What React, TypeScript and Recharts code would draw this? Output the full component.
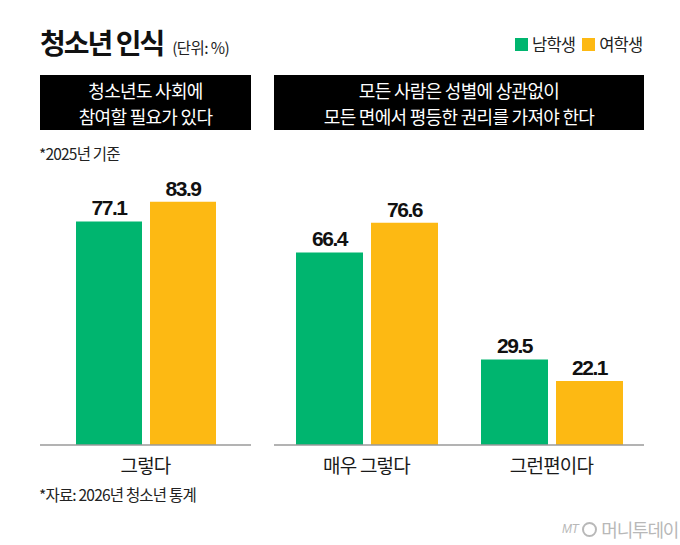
import React from "react";
import { BarChart, Bar, XAxis, YAxis, LabelList } from "recharts";

const seriesNames = ["남학생", "여학생"];
const seriesColors = ["#00b56f", "#fdb913"];

const leftCategories = ["그렇다"];
const leftMale = [77.1];
const leftFemale = [83.9];

const rightCategories = ["매우 그렇다", "그런편이다"];
const rightMale = [66.4, 29.5];
const rightFemale = [76.6, 22.1];

const leftData = leftCategories.map((name, i) => ({ name, male: leftMale[i], female: leftFemale[i] }));
const rightData = rightCategories.map((name, i) => ({ name, male: rightMale[i], female: rightFemale[i] }));

const KR = "'Noto Sans CJK KR', 'Noto Sans', sans-serif";
const NUM = "'Liberation Sans Narrow', 'Liberation Sans', Arial, sans-serif";

const headerStyle: React.CSSProperties = {
  position: "absolute",
  top: 75,
  height: 55,
  background: "#000",
  color: "#fff",
  fontFamily: KR,
  fontSize: 18,
  letterSpacing: -0.7,
  display: "flex",
  flexDirection: "column",
  justifyContent: "center",
  alignItems: "center",
  textAlign: "center",
};

const lineStyle: React.CSSProperties = { height: 26, lineHeight: "26px" };

const labelStyle = { fontSize: 21, fontWeight: 700, fill: "#111", fontFamily: NUM, letterSpacing: -1.5 };

function Panel({ data, width, left, barSize }: { data: any[]; width: number; left: number; barSize: number }) {
  return (
    <div style={{ position: "absolute", left, top: 155 }}>
      <BarChart width={width} height={335} data={data} margin={{ top: 0, right: 0, left: 0, bottom: 0 }} barGap={8} barSize={barSize}>
        <YAxis hide domain={[0, 100]} />
        <XAxis
          dataKey="name"
          axisLine={{ stroke: "#9a9a9a", strokeWidth: 1.5 }}
          tickLine={false}
          height={45}
          tickMargin={9}
          tick={{ fontSize: 19, fill: "#1a1a1a", fontFamily: KR, letterSpacing: -0.8 }}
        />
        <Bar dataKey="male" fill={seriesColors[0]} isAnimationActive={false}>
          <LabelList dataKey="male" position="top" offset={6} style={labelStyle} />
        </Bar>
        <Bar dataKey="female" fill={seriesColors[1]} isAnimationActive={false}>
          <LabelList dataKey="female" position="top" offset={6} style={labelStyle} />
        </Bar>
      </BarChart>
    </div>
  );
}

export default function App() {
  return (
    <div style={{ position: "absolute", left: 0, top: 0, width: 680, height: 545, background: "#fff", overflow: "hidden" }}>
      <div style={{ position: "absolute", left: 40, top: 22, fontFamily: KR, fontSize: 28, fontWeight: 700, letterSpacing: -2, color: "#111" }}>
        청소년 인식
        <span style={{ fontSize: 15.5, fontWeight: 400, letterSpacing: -0.6, marginLeft: 9, color: "#222" }}>(단위: %)</span>
      </div>

      <div style={{ position: "absolute", left: 515, top: 32, display: "flex", alignItems: "center", fontFamily: KR, fontSize: 16.5, letterSpacing: -0.8, color: "#222" }}>
        {seriesNames.map((n, i) => (
          <span key={n} style={{ display: "flex", alignItems: "center", marginRight: i === 0 ? 7 : 0 }}>
            <span style={{ display: "inline-block", width: 13, height: 13, background: seriesColors[i], marginRight: 4 }} />
            {n}
          </span>
        ))}
      </div>

      <div style={{ ...headerStyle, left: 40, width: 211 }}>
        <div style={lineStyle}>청소년도 사회에</div>
        <div style={lineStyle}>참여할 필요가 있다</div>
      </div>
      <div style={{ ...headerStyle, left: 274, width: 370 }}>
        <div style={lineStyle}>모든 사람은 성별에 상관없이</div>
        <div style={lineStyle}>모든 면에서 평등한 권리를 가져야 한다</div>
      </div>

      <div style={{ position: "absolute", left: 39, top: 142, fontFamily: KR, fontSize: 15.5, letterSpacing: -0.8, color: "#222" }}>
        *2025년 기준
      </div>

      <Panel data={leftData} width={211} left={40} barSize={66} />
      <Panel data={rightData} width={370} left={274} barSize={67} />

      <div style={{ position: "absolute", left: 39, top: 483, fontFamily: KR, fontSize: 15.5, letterSpacing: -0.8, color: "#222" }}>
        *자료: 2026년 청소년 통계
      </div>

      <div style={{ position: "absolute", left: 562, top: 516, display: "flex", alignItems: "center", color: "#b8b8b8" }}>
        <span style={{ fontFamily: NUM, fontStyle: "italic", fontSize: 12, letterSpacing: -0.5 }}>MT</span>
        <span style={{ display: "inline-block", width: 11, height: 11, borderRadius: "50%", border: "2px solid #b8b8b8", margin: "0 4px" }} />
        <span style={{ fontFamily: KR, fontSize: 18, letterSpacing: -1.2 }}>머니투데이</span>
      </div>
    </div>
  );
}
